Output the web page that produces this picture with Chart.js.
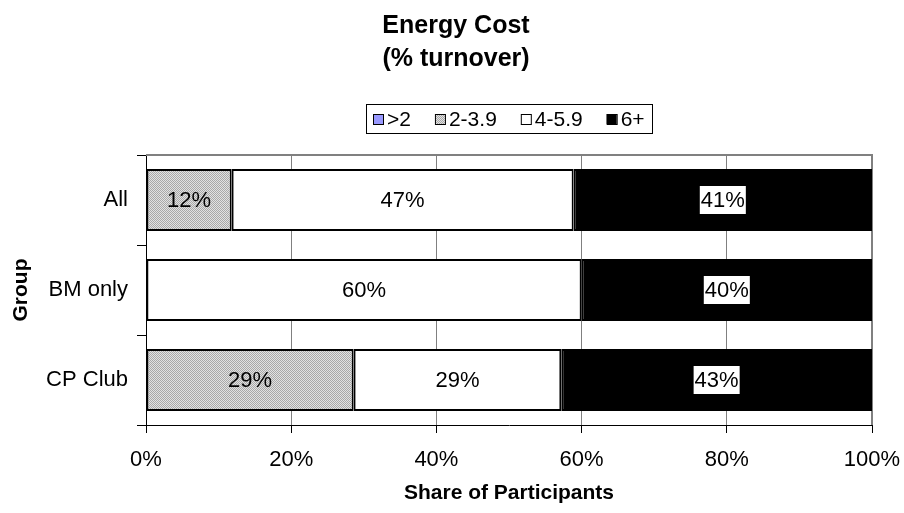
<!DOCTYPE html>
<html>
<head>
<meta charset="utf-8">
<script src="https://cdn.jsdelivr.net/npm/chart.js@4"></script>
<style>
  html, body { margin: 0; padding: 0; background: #fff; }
  #wrap { width: 904px; height: 513px; }
</style>
</head>
<body>
<div id="wrap"><canvas id="c" width="904" height="513"></canvas></div>
<script>
// Groups and share of participants (%) per energy-cost band
const groups = ['All', 'BM only', 'CP Club'];
const bandNames = ['>2', '2-3.9', '4-5.9', '6+'];
const shareOver2 = [0, 0, 0];
const share2to39 = [11.8, 0, 28.6];
const share4to59 = [47.1, 60, 28.6];
const share6plus = [41.1, 40, 42.8];
const xTickValues = [0, 20, 40, 60, 80, 100];

const FONT = "'Liberation Sans', Arial, sans-serif";

// fine grey stipple used for the 2-3.9 band
function stipple() {
  const p = document.createElement('canvas');
  p.width = 2; p.height = 2;
  const g = p.getContext('2d');
  g.fillStyle = '#e2e2e2'; g.fillRect(0, 0, 2, 2);
  g.fillStyle = '#a8a8a8'; g.fillRect(0, 0, 1, 1); g.fillRect(1, 1, 1, 1);
  return g.createPattern(p, 'repeat');
}
const ctx0 = document.getElementById('c').getContext('2d');
const grey = stipple();

const fills = ['#9999FF', grey, '#FFFFFF', '#000000'];
const series = [shareOver2, share2to39, share4to59, share6plus];

const datasets = series.map((vals, i) => ({
  label: bandNames[i],
  data: vals,
  backgroundColor: fills[i],
  borderColor: '#000',
  borderWidth: 2,
  borderSkipped: false,
  barPercentage: 0.69,
  categoryPercentage: 1.0
}));

// value labels centred in each segment; the dark band gets a white plate
const valueLabels = {
  id: 'valueLabels',
  afterDatasetsDraw(chart) {
    const ctx = chart.ctx;
    ctx.save();
    ctx.font = '22px ' + FONT;
    ctx.textAlign = 'center';
    ctx.textBaseline = 'middle';
    chart.data.datasets.forEach((ds, di) => {
      const meta = chart.getDatasetMeta(di);
      meta.data.forEach((bar, i) => {
        const v = ds.data[i];
        if (!v) return;
        const txt = Math.round(v) + '%';
        const cx = (bar.x + bar.base) / 2;
        const cy = bar.y;
        if (di === 3) {
          const w = ctx.measureText(txt).width;
          ctx.fillStyle = '#fff';
          ctx.fillRect(cx - w / 2 - 1, cy - 14, w + 2, 28);
        }
        ctx.fillStyle = '#000';
        ctx.fillText(txt, cx, cy + 1);
      });
    });
    ctx.restore();
  }
};

// grey frame on the plot area
const frame = {
  id: 'frame',
  beforeDatasetsDraw(chart) {
    const a = chart.chartArea, ctx = chart.ctx;
    ctx.save();
    ctx.strokeStyle = '#808080';
    ctx.lineWidth = 2;
    ctx.beginPath();
    ctx.moveTo(a.left, a.top);
    ctx.lineTo(a.right, a.top);
    ctx.lineTo(a.right, a.bottom);
    ctx.stroke();
    ctx.restore();
  }
};

// boxed legend row centred over the plot area
const boxedLegend = {
  id: 'boxedLegend',
  afterDraw(chart) {
    const ctx = chart.ctx, a = chart.chartArea;
    const box = 10, gap = 4, spacing = 24, padX = 7;
    ctx.save();
    ctx.font = '21px ' + FONT;
    ctx.textBaseline = 'middle';
    ctx.textAlign = 'left';
    const items = chart.data.datasets.map(ds => ({ text: ds.label, fill: ds.backgroundColor, w: ctx.measureText(ds.label).width }));
    const total = items.reduce((s, it) => s + box + gap + it.w, 0) + spacing * (items.length - 1);
    const cx = (a.left + a.right) / 2;
    const cy = a.top - 36;
    let x = Math.round(cx - total / 2);
    ctx.strokeStyle = '#000';
    ctx.lineWidth = 1;
    ctx.strokeRect(x - padX + 0.5, Math.round(cy - 15) + 0.5, Math.round(total + padX * 2), 29);
    items.forEach(it => {
      const by = Math.round(cy - box / 2);
      ctx.fillStyle = it.fill;
      ctx.fillRect(x, by, box, box);
      ctx.strokeRect(x + 0.5, by + 0.5, box, box);
      ctx.fillStyle = '#000';
      ctx.fillText(it.text, x + box + gap, cy + 1);
      x += box + gap + it.w + spacing;
    });
    ctx.restore();
  }
};

new Chart(ctx0, {
  type: 'bar',
  data: { labels: groups, datasets },
  options: {
    indexAxis: 'y',
    responsive: false,
    animation: false,
    layout: { padding: { left: 8, right: 0, top: 0, bottom: 0 } },
    plugins: {
      title: {
        display: true,
        text: ['Energy Cost', '(% turnover)'],
        color: '#000',
        font: { family: FONT, size: 25, weight: 'bold', lineHeight: 1.32 },
        padding: { top: 10, bottom: 79 }
      },
      legend: { display: false },
      tooltip: { enabled: false }
    },
    scales: {
      x: {
        type: 'linear',
        stacked: true,
        min: 0,
        max: 100,
        afterBuildTicks(scale) { scale.ticks = xTickValues.map(v => ({ value: v })); },
        ticks: {
          color: '#000',
          font: { family: FONT, size: 22 },
          padding: 14,
          callback: v => v + '%'
        },
        grid: { color: '#808080', lineWidth: 1, tickColor: '#000', tickLength: 8 },
        border: { color: '#000', width: 1 },
        title: {
          display: true,
          text: 'Share of Participants',
          color: '#000',
          font: { family: FONT, size: 21, weight: 'bold' },
          padding: { top: 0, bottom: 7 }
        },
        afterFit(scale) {
          scale.height = 88;
          scale.paddingLeft = 0;
          scale.paddingRight = 32;
        }
      },
      y: {
        stacked: true,
        ticks: { color: '#000', font: { family: FONT, size: 22 }, padding: 9 },
        grid: { drawOnChartArea: false, color: '#000', tickLength: 9 },
        border: { color: '#000', width: 1 },
        title: {
          display: true,
          text: 'Group',
          color: '#000',
          font: { family: FONT, size: 21, weight: 'bold' },
          padding: { top: 1, bottom: 0 }
        },
        afterFit(scale) {
          scale.width = 138;
          scale.paddingTop = 0;
          scale.paddingBottom = 0;
        }
      }
    }
  },
  plugins: [frame, valueLabels, boxedLegend]
});
</script>
</body>
</html>
